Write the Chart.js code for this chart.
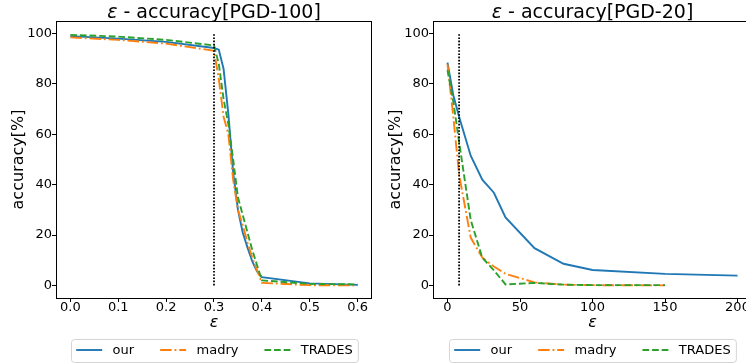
<!DOCTYPE html>
<html>
<head>
<meta charset="utf-8">
<script src="https://cdn.jsdelivr.net/npm/chart.js@4"></script>
<style>
  html, body { margin: 0; padding: 0; background: #fff; overflow: hidden; }
  #wrap { position: relative; width: 746px; height: 364px; overflow: hidden; }
  canvas { position: absolute; top: 0; }
</style>
</head>
<body>
<div id="wrap">
  <canvas id="pgd100" width="376" height="364" style="left:0"></canvas>
  <canvas id="pgd20" width="380" height="364" style="left:377px"></canvas>
</div>
<script>
// series names shared by both panels
const seriesNames = ['our', 'madry', 'TRADES'];

// left panel: PGD-100
const eps100 = [0, 0.1, 0.2, 0.3, 0.31, 0.32, 0.33, 0.34, 0.35, 0.36, 0.37, 0.38, 0.39, 0.4, 0.5, 0.6];
const our100 = [99.0, 98.0, 96.7, 94.3, 93.6, 86.0, 68.0, 45.0, 30.0, 21.0, 15.0, 9.5, 5.5, 3.3, 0.8, 0.2];
const madry100 = [98.5, 97.5, 96.0, 93.2, 82.0, 67.0, 60.0, 42.0, 30.0, 24.0, 17.0, 11.0, 6.0, 1.0, 0.1, 0.0];
const trades100 = [99.5, 98.8, 97.5, 95.3, 88.0, 74.0, 64.0, 50.0, 35.0, 28.0, 21.0, 14.0, 8.0, 2.0, 0.6, 0.4];
const marker100 = 0.3;
const xTicks100 = [0, 0.1, 0.2, 0.3, 0.4, 0.5, 0.6];

// right panel: PGD-20 (madry / TRADES stop at 150)
const eps20 = [0, 4, 8, 16, 24, 32, 40, 60, 80, 100, 150, 200];
const our20 = [88.5, 75.5, 67.0, 51.5, 42.0, 36.8, 27.0, 14.8, 8.6, 6.1, 4.6, 3.9];
const madry20 = [87.8, 67.0, 44.0, 19.0, 11.0, 7.5, 4.6, 1.2, 0.3, 0.1, 0.0];
const trades20 = [85.5, 73.0, 57.0, 26.0, 11.0, 6.0, 0.4, 1.0, 0.3, 0.1, 0.1];
const marker20 = 8;
const xTicks20 = [0, 50, 100, 150, 200];

const yTicks = [0, 20, 40, 60, 80, 100];
const markerSpan = [0, 100];

const colors = ['#1f77b4', '#ff7f0e', '#2ca02c'];
const dashes = [[], [11.5, 2.9, 1.8, 2.9], [6.7, 2.9]];

Chart.defaults.font.family = '"DejaVu Sans", sans-serif';
Chart.defaults.color = '#000';

// top and right spines, matplotlib style
const framePlugin = {
  id: 'frame',
  afterDatasetsDraw(chart) {
    const { ctx, chartArea: a } = chart;
    ctx.save();
    ctx.strokeStyle = '#000';
    ctx.lineWidth = 1;
    ctx.strokeRect(a.left + 0.5, a.top + 0.5, a.right - a.left - 1, a.bottom - a.top);
    ctx.restore();
  }
};

// title with an italic epsilon, centred over the axes
const titlePlugin = {
  id: 'mathTitle',
  afterDraw(chart, args, opts) {
    const { ctx, chartArea: a } = chart;
    ctx.save();
    const eps = 'ε', rest = ' - ' + opts.text;
    ctx.font = 'italic 19px "DejaVu Sans"';
    const w1 = ctx.measureText(eps).width;
    ctx.font = '19px "DejaVu Sans"';
    const w2 = ctx.measureText(rest).width;
    const x = (a.left + a.right) / 2 - (w1 + w2) / 2;
    const y = 18;
    ctx.fillStyle = '#000';
    ctx.textBaseline = 'alphabetic';
    ctx.textAlign = 'left';
    ctx.font = 'italic 19px "DejaVu Sans"';
    ctx.fillText(eps, x, y);
    ctx.font = '19px "DejaVu Sans"';
    ctx.fillText(rest, x + w1, y);
    ctx.restore();
  }
};

// framed legend under the axes
const legendPlugin = {
  id: 'boxLegend',
  afterDraw(chart) {
    const { ctx, chartArea: a } = chart;
    const fs = 13, pad = 0.4 * fs, handle = 2 * fs, gap = 0.8 * fs, colGap = 2 * fs;
    ctx.save();
    ctx.font = fs + 'px "DejaVu Sans"';
    const widths = seriesNames.map(n => ctx.measureText(n).width);
    const W = 2 * pad + widths.reduce((s, w) => s + handle + gap + w, 0) + colGap * (seriesNames.length - 1);
    const H = 23;
    const x0 = Math.round((a.left + a.right) / 2 - W / 2);
    const y0 = chart.height - 25;
    ctx.beginPath();
    ctx.roundRect(x0 + 0.5, y0 + 0.5, W, H, 3);
    ctx.fillStyle = 'rgba(255,255,255,0.8)';
    ctx.fill();
    ctx.strokeStyle = '#d4d4d4';
    ctx.lineWidth = 1;
    ctx.stroke();
    const ym = y0 + H / 2;
    let x = x0 + pad;
    seriesNames.forEach((n, i) => {
      ctx.beginPath();
      ctx.setLineDash(dashes[i]);
      ctx.strokeStyle = colors[i];
      ctx.lineWidth = 1.9;
      ctx.moveTo(x, ym - 0.5);
      ctx.lineTo(x + handle, ym - 0.5);
      ctx.stroke();
      ctx.setLineDash([]);
      ctx.fillStyle = '#000';
      ctx.textBaseline = 'middle';
      ctx.textAlign = 'left';
      ctx.fillText(n, x + handle + gap, ym);
      x += handle + gap + widths[i] + colGap;
    });
    ctx.restore();
  }
};

function makeChart(id, title, eps, series, marker, xMin, xMax, xTicks, digits, padRight) {
  const datasets = series.map((vals, i) => ({
    label: seriesNames[i],
    data: vals.map((v, j) => ({ x: eps[j], y: v })),
    borderColor: colors[i],
    borderWidth: 1.9,
    borderDash: dashes[i],
    pointRadius: 0,
    fill: false,
    tension: 0,
    order: 3 - i
  }));
  datasets.push({
    label: 'marker',
    data: markerSpan.map(y => ({ x: marker, y: y })),
    borderColor: '#000',
    borderWidth: 1.8,
    borderDash: [1.6, 1.6],
    pointRadius: 0,
    order: 0
  });

  const grid = { drawOnChartArea: false, drawTicks: true, tickLength: 4, color: '#000', lineWidth: 1 };

  return new Chart(document.getElementById(id), {
    type: 'line',
    data: { datasets: datasets },
    options: {
      responsive: false,
      animation: false,
      layout: { padding: { left: 0, right: padRight, top: 21, bottom: 32 } },
      plugins: {
        legend: { display: false },
        tooltip: { enabled: false },
        title: { display: false },
        mathTitle: { text: title }
      },
      scales: {
        x: {
          type: 'linear',
          min: xMin,
          max: xMax,
          afterBuildTicks: s => { s.ticks = xTicks.map(v => ({ value: v })); },
          afterFit: s => { s.height = 34; },
          grid: grid,
          border: { display: false },
          ticks: {
            font: { size: 13, lineHeight: 1 },
            padding: -1,
            color: '#000',
            autoSkip: false,
            maxRotation: 0,
            callback: v => Number(v).toFixed(digits)
          },
          title: {
            display: true,
            text: 'ε',
            color: '#000',
            font: { size: 16, style: 'italic', lineHeight: 1 },
            padding: { top: 0, bottom: 1 }
          }
        },
        y: {
          min: -5,
          max: 105,
          afterBuildTicks: s => { s.ticks = yTicks.map(v => ({ value: v })); },
          afterFit: s => { s.width = 56; },
          grid: grid,
          border: { display: false },
          ticks: {
            font: { size: 13, lineHeight: 1 },
            padding: 0,
            color: '#000',
            autoSkip: false,
            callback: v => String(v)
          },
          title: {
            display: true,
            text: 'accuracy[%]',
            color: '#000',
            font: { size: 16, lineHeight: 1 },
            padding: { top: 10.5, bottom: 0 }
          }
        }
      }
    },
    plugins: [framePlugin, titlePlugin, legendPlugin]
  });
}

makeChart('pgd100', 'accuracy[PGD-100]', eps100, [our100, madry100, trades100],
  marker100, -0.03, 0.63, xTicks100, 1, 4);
makeChart('pgd20', 'accuracy[PGD-20]', eps20, [our20, madry20, trades20],
  marker20, -10, 210, xTicks20, 0, 5);
</script>
</body>
</html>
